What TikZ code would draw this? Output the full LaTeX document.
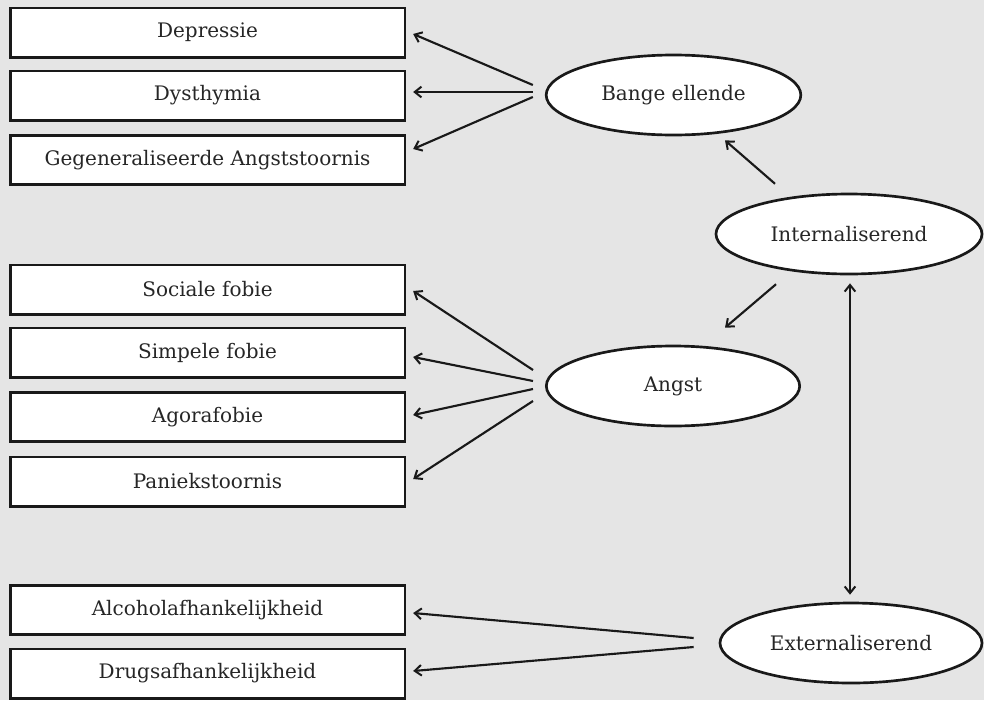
\documentclass[tikz,border=0pt]{standalone}
\usepackage{fontspec}
\setmainfont{DejaVu Serif}
\usetikzlibrary{shapes.geometric,calc,arrows.meta}
\definecolor{bgc}{RGB}{229,229,229}
\begin{document}
\begin{tikzpicture}[x=0.75pt,y=-0.75pt,
  box/.style={draw=black!90,line width=2pt,fill=white,text=black!85,minimum width=296pt,minimum height=37pt,inner sep=0pt,font=\fontsize{15}{17}\selectfont},
  ell/.style={draw=black!90,line width=2pt,fill=white,text=black!85,ellipse,minimum height=60pt,inner sep=0pt,font=\fontsize{15}{17}\selectfont},
  arr/.style={line width=1.6pt,draw=black!90,-{Straight Barb[length=5pt,width=8pt,line width=1.5pt]}},
  darr/.style={line width=1.6pt,draw=black!90,{Straight Barb[length=5pt,width=8pt,line width=1.5pt]}-{Straight Barb[length=5pt,width=8pt,line width=1.5pt]}}]
\fill[bgc] (0,0) rectangle (984,700);
\useasboundingbox (0,0) rectangle (984,700);
% boxes
\node[box] (dep) at (207.5,32.5) {Depressie};
\node[box] (dys) at (207.5,95.5) {Dysthymia};
\node[box] (gen) at (207.5,160) {Gegeneraliseerde Angststoornis};
\node[box] (soc) at (207.5,289.5) {Sociale fobie};
\node[box] (sim) at (207.5,352.5) {Simpele fobie};
\node[box] (ago) at (207.5,417) {Agorafobie};
\node[box] (pan) at (207.5,481.5) {Paniekstoornis};
\node[box] (alc) at (207.5,610) {Alcoholafhankelijkheid};
\node[box] (dru) at (207.5,673.5) {Drugsafhankelijkheid};
% ellipses
\node[ell,minimum width=191pt] (be) at (673.5,95) {Bange ellende};
\node[ell,minimum width=199.5pt] (int) at (849,234) {Internaliserend};
\node[ell,minimum width=190pt] (ang) at (673,386) {Angst};
\node[ell,minimum width=196.5pt] (ext) at (851,643) {Externaliserend};
% arrows
\draw[arr] ($(be.west)+(-12,-10)$) -- ($(dep.east)+(7,1.5)$);
\draw[arr] ($(be.west)+(-12,-3)$) -- ($(dys.east)+(7,-3.5)$);
\draw[arr] ($(be.west)+(-12,2)$) -- ($(gen.east)+(7,-11)$);
\draw[arr] ($(ang.west)+(-12,-16)$) -- ($(soc.east)+(7,1.5)$);
\draw[arr] ($(ang.west)+(-12,-5)$) -- ($(sim.east)+(7,4.5)$);
\draw[arr] ($(ang.west)+(-12,3)$) -- ($(ago.east)+(7,-2)$);
\draw[arr] ($(ang.west)+(-12,15)$) -- ($(pan.east)+(7,-2.5)$);
\draw[arr] ($(ext.west)+(-25,-5)$) -- ($(alc.east)+(7,3)$);
\draw[arr] ($(ext.west)+(-25,4)$) -- ($(dru.east)+(7,-2.5)$);
\draw[arr] ($(int.north west)+(21,-21)$) -- ($(be.south)+(51.5,4)$);
\draw[arr] ($(int.south west)+(22,21)$) -- ($(ang.north)+(52,-17)$);
\draw[darr] ($(int.south)+(1,8)$) -- ($(ext.north)+(-1,-7)$);
\end{tikzpicture}
\end{document}
